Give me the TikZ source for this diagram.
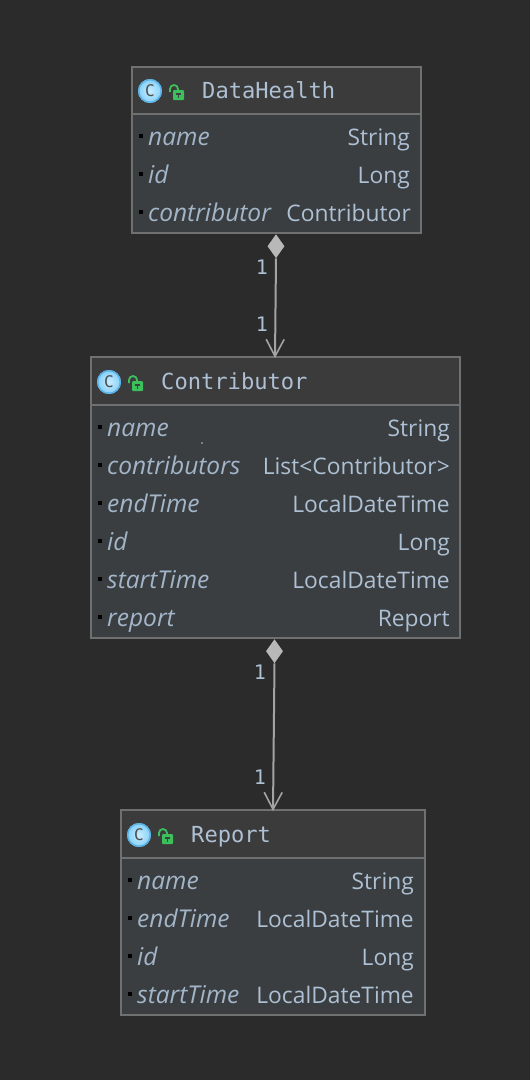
\documentclass[tikz,border=0pt]{standalone}
\usepackage{fontspec}
\usepackage{tikz}
\usetikzlibrary{arrows.meta,shapes.geometric,calc}
\setmainfont{Open Sans}
\newfontfamily\titlefont{DejaVu Sans Mono}
\definecolor{bgc}{HTML}{2B2B2B}
\definecolor{headc}{HTML}{3C3B3B}
\definecolor{bodyc}{HTML}{3A3E41}
\definecolor{edgec}{HTML}{6E716F}
\definecolor{txtc}{HTML}{AEC0D3}
\definecolor{namec}{HTML}{A3B5C8}
\definecolor{linec}{HTML}{A3A3A3}
\definecolor{diac}{HTML}{B8B8B8}
\definecolor{lockc}{HTML}{3CC05C}
\definecolor{iconin}{HTML}{C8ECFF}
\definecolor{iconout}{HTML}{84D0F8}
\definecolor{iconring}{HTML}{5AB2E6}
\tikzset{
  x=1pt,y=-1pt,
  box/.style={draw=edgec,line width=2pt,inner sep=0pt,outer sep=0pt,anchor=north west},
  hd/.style={box,fill=headc},
  bd/.style={box,fill=bodyc},
  titletxt/.style={text=txtc,anchor=base west,inner sep=0pt,font=\titlefont\fontsize{22.1}{24}\selectfont},
  nametxt/.style={text=namec,anchor=base west,inner sep=0pt,font=\itshape\fontsize{24.5}{26}\selectfont},
  typetxt/.style={text=txtc,anchor=base east,inner sep=0pt,font=\fontsize{22.8}{26}\selectfont},
  multtxt/.style={text=txtc,anchor=center,inner sep=0pt,font=\titlefont\fontsize{20}{24}\selectfont},
  dia/.style={diamond,fill=diac,inner sep=0pt,minimum width=17pt,minimum height=24pt,aspect=0.7,anchor=north},
  conn/.style={draw=linec,line width=2pt,-{Straight Barb[length=17pt,width=18pt,line width=1.6pt]}},
}
% \classicon{x}{y}: circle and lock of the header
\newcommand{\classicon}[2]{%
  \begin{scope}[shift={(#1,#2)}]
    \shade[inner color=iconin,outer color=iconout] (0,0) circle[radius=12pt];
    \draw[draw=iconring,line width=1.4pt] (0,0) circle[radius=11.3pt];
    \node[text=black!70,inner sep=0pt,font=\titlefont\fontsize{16}{16}\selectfont] at (0,0) {C};
    \fill[lockc,rounded corners=1pt] (23,-1) rectangle (34,9);
    \draw[lockc,line width=1.8pt] (20,1) -- (20,-2) arc[start angle=180,end angle=0,radius=4pt] -- (28,-1);
    \draw[black!75,line width=1.1pt] (26,3) -- (31,3) (28.5,3) -- (28.5,7);
  \end{scope}}
\newcommand{\rowdot}[2]{\fill[black] ({#1-2},{#2-2}) rectangle ({#1+2},{#2+2});}
\begin{document}
\begin{tikzpicture}
\useasboundingbox[fill=bgc] (0,0) rectangle (530,1080);

% DataHealth
\node[bd,minimum width=289pt,minimum height=119pt] (dhb) at (132,114) {};
\node[hd,minimum width=289pt,minimum height=47pt] (dhh) at (132,67) {};
\classicon{150}{91}
\node[titletxt] (dht) at (202,98) {DataHealth};
\rowdot{141}{136}\rowdot{141}{174}\rowdot{141}{212}
\node[nametxt] (dhn1) at (148,145) {name};
\node[typetxt] (dht1) at (410,145) {String};
\node[nametxt] (dhn2) at (148,183) {id};
\node[typetxt] (dht2) at (410,183) {Long};
\node[nametxt] (dhn3) at (148,221) {contributor};
\node[typetxt] (dht3) at (411,221) {Contributor};

% Contributor
\node[bd,minimum width=369pt,minimum height=233pt] (cb) at (91,405) {};
\node[hd,minimum width=369pt,minimum height=48pt] (ch) at (91,357) {};
\classicon{109}{382}
\node[titletxt] (ct) at (161,389) {Contributor};
\rowdot{100}{427}\rowdot{100}{465}\rowdot{100}{503}\rowdot{100}{541}\rowdot{100}{579}\rowdot{100}{617}
\node[nametxt] (cn1) at (107,436) {name};
\node[typetxt] (ct1) at (450,436) {String};
\node[nametxt] (cn2) at (107,474) {contributors};
\node[typetxt] (ct2) at (450,474) {List<Contributor>};
\node[nametxt] (cn3) at (107,512) {endTime};
\node[typetxt] (ct3) at (450,512) {LocalDateTime};
\node[nametxt] (cn4) at (107,550) {id};
\node[typetxt] (ct4) at (450,550) {Long};
\node[nametxt] (cn5) at (107,588) {startTime};
\node[typetxt] (ct5) at (450,588) {LocalDateTime};
\node[nametxt] (cn6) at (107,626) {report};
\node[typetxt] (ct6) at (450,626) {Report};
\fill[txtc] (202,443) circle[radius=0.8pt];

% Report
\node[bd,minimum width=304pt,minimum height=157pt] (rb) at (121,858) {};
\node[hd,minimum width=304pt,minimum height=48pt] (rh) at (121,810) {};
\classicon{139}{835}
\node[titletxt] (rt) at (191,842) {Report};
\rowdot{130}{880}\rowdot{130}{918}\rowdot{130}{956}\rowdot{130}{994}
\node[nametxt] (rn1) at (137,889) {name};
\node[typetxt] (rt1) at (414,889) {String};
\node[nametxt] (rn2) at (137,927) {endTime};
\node[typetxt] (rt2) at (414,927) {LocalDateTime};
\node[nametxt] (rn3) at (137,965) {id};
\node[typetxt] (rt3) at (414,965) {Long};
\node[nametxt] (rn4) at (137,1003) {startTime};
\node[typetxt] (rt4) at (414,1003) {LocalDateTime};

% Connectors
\node[dia] (d1) at (276,234) {};
\node[dia] (d2) at (274.5,639) {};
\coordinate (a1) at (275,358);
\coordinate (a2) at (273,811);
\draw[conn] (d1.south) -- (a1);
\draw[conn] (d2.south) -- (a2);
\node[multtxt] (m1) at (262,267) {1};
\node[multtxt] (m2) at (262,324) {1};
\node[multtxt] (m3) at (260,672) {1};
\node[multtxt] (m4) at (260,777) {1};
\end{tikzpicture}
\end{document}
